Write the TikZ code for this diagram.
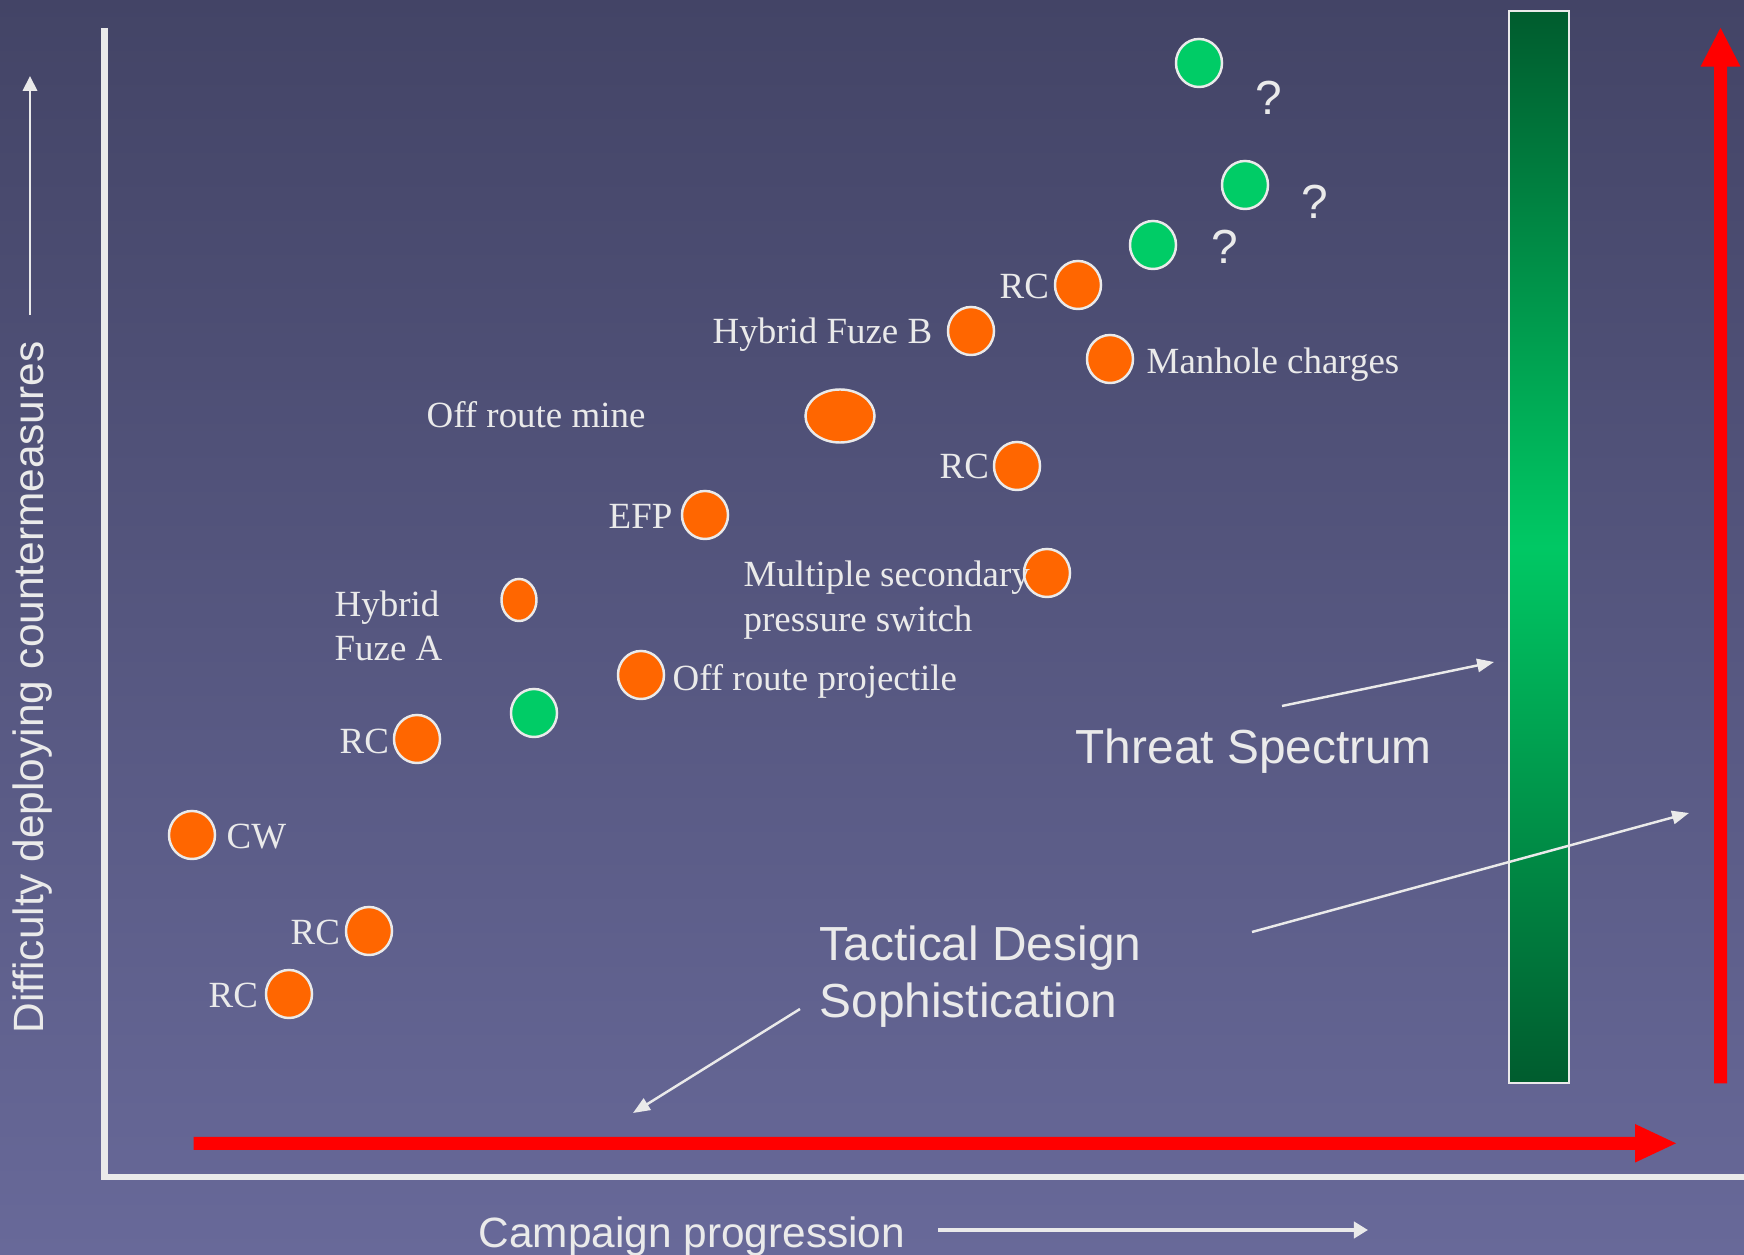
\documentclass[tikz,border=0pt]{standalone}
\usepackage{fontspec}
\setmainfont{Liberation Serif}
\newfontfamily\sansf{Liberation Sans}
\usetikzlibrary{arrows.meta,shapes.geometric}
\definecolor{bgtop}{RGB}{67,68,102}
\definecolor{bgbot}{RGB}{104,105,153}
\definecolor{ora}{RGB}{255,102,0}
\definecolor{grn}{RGB}{0,204,102}
\definecolor{txt}{RGB}{234,234,234}
\definecolor{dkg}{RGB}{0,92,46}
\definecolor{ltg}{RGB}{0,200,100}
\definecolor{arred}{RGB}{255,0,0}
\begin{document}
\begin{tikzpicture}[x=0.01cm,y=-0.01cm,
  dot/.style={ellipse, draw=txt, line width=0.7pt, inner sep=0pt, minimum width=0.46cm, minimum height=0.48cm},
  odot/.style={dot, fill=ora},
  gdot/.style={dot, fill=grn},
  lbl/.style={text=txt, inner sep=0pt, font=\fontsize{10.5}{13}\selectfont},
  big/.style={text=txt, inner sep=0pt, font=\sansf\fontsize{13.6}{16.2}\selectfont},
  axl/.style={text=txt, inner sep=0pt, font=\sansf\fontsize{12.05}{14}\selectfont},
  ptr/.style={draw=txt, line width=0.7pt, -{Triangle[length=4.8pt,width=3.8pt]}},
  axis/.style={draw=txt, line width=1.9pt}
]
\useasboundingbox (0,0) rectangle (1744,1255);
\fill[top color=bgtop, bottom color=bgbot] (0,0) rectangle (1744,1255);

% axes
\draw[axis] (104.5,28) -- (104.5,1177) -- (1744,1177);

% green bar
\draw[draw=txt, line width=0.55pt, top color=dkg, bottom color=dkg, middle color=ltg] (1509,11) rectangle (1569,1083);

% red arrows
\fill[arred] (193.5,1136.8) -- (1635,1136.8) -- (1635,1124) -- (1676,1143.3) -- (1635,1162.6) -- (1635,1149.8) -- (193.5,1149.8) -- cycle;
\fill[arred] (1714,1083.3) -- (1714,66.7) -- (1700.5,66.7) -- (1720.5,27.8) -- (1740.5,66.7) -- (1727,66.7) -- (1727,1083.3) -- cycle;

% pointer arrows
\coordinate (a1s) at (1282,706); \coordinate (a1e) at (1494,662);
\coordinate (a2s) at (1252,932); \coordinate (a2e) at (1689,813);
\coordinate (a3s) at (800,1009); \coordinate (a3e) at (633,1113);
\coordinate (a4s) at (938,1230); \coordinate (a4e) at (1368,1230);
\coordinate (a5s) at (30,315);   \coordinate (a5e) at (30,76);
\draw[ptr] (a1s) -- (a1e);
\draw[ptr] (a2s) -- (a2e);
\draw[ptr] (a3s) -- (a3e);
\draw[draw=txt, line width=1.3pt, -{Triangle[length=4pt,width=4.6pt]}] (a4s) -- (a4e);
\draw[draw=txt, line width=0.8pt, -{Triangle[length=4.2pt,width=4pt]}] (a5s) -- (a5e);

% dots
\node[odot] (o1) at (1078,285) {};
\node[odot] (o2) at (971,331) {};
\node[odot] (o3) at (1110,359) {};
\node[odot, minimum width=0.69cm, minimum height=0.53cm] (o4) at (840,416) {};
\node[odot] (o5) at (1017,466) {};
\node[odot] (o6) at (705,515) {};
\node[odot] (o7) at (1047,573) {};
\node[odot, minimum width=0.35cm, minimum height=0.42cm] (o8) at (519,600) {};
\node[odot] (o9) at (641,675) {};
\node[odot] (o10) at (417,739) {};
\node[odot] (o11) at (192,835) {};
\node[odot] (o12) at (369,931) {};
\node[odot] (o13) at (289,994) {};
\node[gdot] (g1) at (1199,63) {};
\node[gdot] (g2) at (1245,185) {};
\node[gdot] (g3) at (1153,245) {};
\node[gdot] (g4) at (534,713) {};

% labels
\node[lbl, anchor=mid west] (l1) at (999,290.5) {RC};
\node[lbl, anchor=mid west] (l2) at (712,335.5) {Hybrid Fuze B};
\node[lbl, anchor=mid west] (l3) at (1146,365.5) {Manhole charges};
\node[lbl, anchor=mid west] (l4) at (426,419.5) {Off route mine};
\node[lbl, anchor=mid west] (l5) at (939,470.5) {RC};
\node[lbl, anchor=mid west] (l6) at (608,520.5) {EFP};
\node[lbl, anchor=mid west] (l7a) at (743,578.5) {Multiple secondary};
\node[lbl, anchor=mid west] (l7b) at (743,623.5) {pressure switch};
\node[lbl, anchor=mid west] (l8a) at (334,608.5) {Hybrid};
\node[lbl, anchor=mid west] (l8b) at (334,652.5) {Fuze A};
\node[lbl, anchor=mid west] (l9) at (672,682.5) {Off route projectile};
\node[lbl, anchor=mid west] (l10) at (339,745.5) {RC};
\node[lbl, anchor=mid west] (l11) at (226,840.5) {CW};
\node[lbl, anchor=mid west] (l12) at (290,936.5) {RC};
\node[lbl, anchor=mid west] (l13) at (208,999.5) {RC};
\node[big] (q1) at (1269,98) {?};
\node[big] (q2) at (1315,202) {?};
\node[big] (q3) at (1225,247) {?};

\node[big, anchor=mid west] (ts) at (1075,755) {Threat Spectrum};
\node[big, anchor=mid west] (td1) at (819,952) {Tactical Design};
\node[big, anchor=mid west] (td2) at (819,1009) {Sophistication};
\node[axl, anchor=mid west] (cp) at (478,1239) {Campaign progression};
\node[axl, anchor=mid west, rotate=90] (dy) at (35,1034) {Difficulty deploying countermeasures};
\end{tikzpicture}
\end{document}
